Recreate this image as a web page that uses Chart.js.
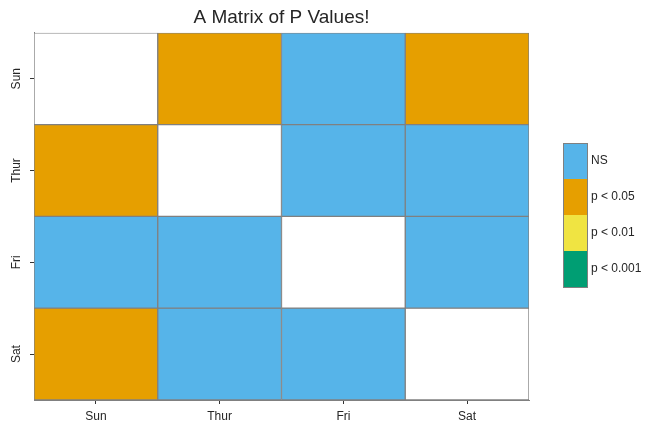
<!DOCTYPE html>
<html>
<head>
<meta charset="utf-8">
<script src="https://cdn.jsdelivr.net/npm/chart.js@4"></script>
<style>
  html, body { margin: 0; padding: 0; background: #fff; }
  #wrap { width: 660px; height: 435px; }
</style>
</head>
<body>
<div id="wrap"><canvas id="pmatrix"></canvas></div>
<script>
// days on both axes, rows top to bottom, columns left to right
const days = ["Sun", "Thur", "Fri", "Sat"];

// significance class per cell: -1 = diagonal, 0 = NS, 1 = p<0.05, 2 = p<0.01, 3 = p<0.001
const sunRow  = [-1, 1, 0, 1];
const thurRow = [1, -1, 0, 0];
const friRow  = [0, 0, -1, 0];
const satRow  = [1, 0, 0, -1];
const rows = [sunRow, thurRow, friRow, satRow];

const legendLabels = ["NS", "p < 0.05", "p < 0.01", "p < 0.001"];
const legendColors = ["#56B4E9", "#E69F00", "#F0E442", "#009E73"];
const diagColor = "#ffffff";

const textColor = "#262626";
const edgeColor = "#808080";

function cellColor(v) {
    return v < 0 ? diagColor : legendColors[v];
}

// one floating-bar dataset per row
const datasets = rows.map(function(row, r) {
    return {
        label: days[r],
        data: row.map(function() { return [r, r + 1]; }),
        backgroundColor: row.map(cellColor),
        borderColor: edgeColor,
        borderWidth: 1,
        borderSkipped: false,
        barPercentage: 1,
        categoryPercentage: 1,
        grouped: false
    };
});

// colour bar on the right
const colorBar = {
    id: 'colorBar',
    afterDraw: function(chart) {
        const ctx = chart.ctx;
        const x = 563, y0 = 143, w = 24, h = 36;
        ctx.save();
        legendColors.forEach(function(c, i) {
            ctx.fillStyle = c;
            ctx.fillRect(x, y0 + i * h, w, h);
        });
        ctx.strokeStyle = edgeColor;
        ctx.lineWidth = 1;
        ctx.strokeRect(x + 0.5, y0 + 0.5, w, h * legendColors.length);
        ctx.fillStyle = textColor;
        ctx.font = '12px "Liberation Sans", Arial, sans-serif';
        ctx.textBaseline = 'middle';
        ctx.textAlign = 'left';
        legendLabels.forEach(function(t, i) {
            ctx.fillText(t, x + w + 4, y0 + i * h + h / 2);
        });
        ctx.restore();
    }
};

Chart.defaults.font.family = '"Liberation Sans", Arial, sans-serif';
Chart.defaults.color = textColor;

new Chart(document.getElementById('pmatrix'), {
    type: 'bar',
    data: { labels: days, datasets: datasets },
    plugins: [colorBar],
    options: {
        responsive: true,
        maintainAspectRatio: false,
        animation: false,
        layout: { padding: { left: 0, right: 131, top: 0, bottom: 0 } },
        plugins: {
            legend: { display: false },
            tooltip: { enabled: false },
            title: {
                display: true,
                text: 'A Matrix of P Values!',
                fullSize: false,
                color: textColor,
                font: { size: 19, weight: 'normal' },
                padding: { top: 6, bottom: 4 }
            }
        },
        scales: {
            x: {
                offset: true,
                grid: { display: true, offset: false, drawOnChartArea: false, tickLength: 4, color: '#333' },
                border: { display: true, color: edgeColor },
                ticks: { font: { size: 12 }, color: textColor, padding: 5 },
                afterFit: function(s) { s.height = 35; }
            },
            y: {
                type: 'linear',
                min: 0,
                max: 4,
                reverse: true,
                afterBuildTicks: function(s) {
                    s.ticks = days.map(function(d, i) { return { value: i + 0.5 }; });
                },
                grid: { display: true, drawOnChartArea: false, tickLength: 4, color: '#333' },
                border: { display: true, color: edgeColor },
                ticks: {
                    font: { size: 12 },
                    color: textColor,
                    minRotation: 90,
                    maxRotation: 90,
                    crossAlign: 'center',
                    padding: 1,
                    callback: function(v) { return days[Math.floor(v)]; }
                },
                afterFit: function(s) { s.width = 34; }
            }
        }
    }
});
</script>
</body>
</html>
